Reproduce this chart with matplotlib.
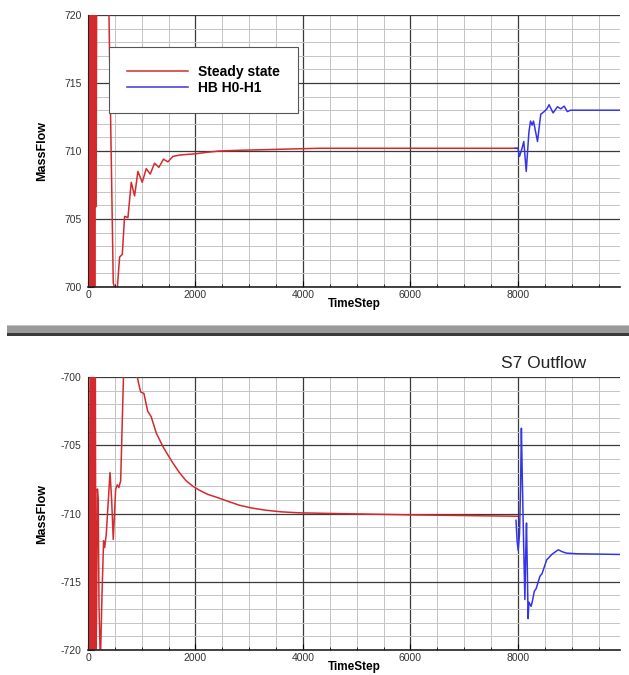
import numpy as np
import matplotlib
matplotlib.use("Agg")
import matplotlib.pyplot as plt
from matplotlib.patches import Rectangle
from matplotlib.ticker import MultipleLocator

plt.rcParams['font.family'] = ['Liberation Sans', 'DejaVu Sans']
plt.rcParams['axes.unicode_minus'] = False

# upper panel: inflow mass flow
top_red_t = [0, 20, 40, 52, 64, 76, 88, 100, 112, 124, 136, 150, 165, 250, 390, 470, 520, 545,
             588, 638, 681, 743, 805, 867, 929, 1009, 1084, 1158, 1238, 1319, 1405,
             1486, 1579, 1703, 1850, 2012, 2200, 2446, 2800, 3313, 3800, 4303, 5000,
             6000, 7000, 7990]
top_red_v = [712.5, 695, 728, 693, 728, 694, 728, 693, 727, 694, 722, 705.9, 727, 735, 720, 700.3,
             699.6, 699.9, 702.2, 702.4, 705.2, 705.1, 707.7, 706.7, 708.5, 707.7, 708.7,
             708.3, 709.1, 708.8, 709.4, 709.2, 709.6, 709.7, 709.75, 709.8, 709.9,
             710.0, 710.05, 710.1, 710.15, 710.2, 710.2, 710.2, 710.2, 710.2]

top_blue_t = [7950, 8000, 8030, 8070, 8110, 8155, 8205, 8235, 8265, 8290, 8320, 8365,
              8425, 8490, 8540, 8580, 8655, 8735, 8800, 8860, 8920, 8980, 9200, 9900]
top_blue_v = [710.2, 710.2, 709.6, 710.1, 710.7, 708.5, 711.4, 712.2, 711.9, 712.2, 711.6,
              710.7, 712.7, 712.9, 713.1, 713.4, 712.8, 713.25, 713.1, 713.3, 712.9,
              713.0, 713.0, 713.0]

# lower panel: S7 outflow
bot_red_t = [0, 20, 40, 52, 64, 76, 88, 100, 112, 124, 136, 148, 160, 175, 190, 205, 230,
             260, 290, 310, 340, 410, 440, 470, 515, 545, 575, 608, 660, 700, 800, 917,
             950, 980, 1040, 1110, 1175, 1270, 1395, 1500, 1580, 1700, 1825, 1950, 2075,
             2230, 2385, 2600, 2820, 3050, 3310, 3600, 3930, 4560, 5990, 7990]
bot_red_v = [-712, -722, -698, -722, -698, -722, -698, -722, -698, -722, -698, -722, -716.8,
             -708.2, -709, -716.8, -721, -716, -712, -712.5, -711.5, -707, -709, -711.9,
             -708.2, -707.9, -708.1, -707.6, -700, -695, -694, -700, -700.6, -701.1,
             -701.2, -702.5, -702.9, -704.1, -705.1, -705.8, -706.3, -707.0, -707.6,
             -708.0, -708.3, -708.6, -708.8, -709.1, -709.4, -709.6, -709.76, -709.88,
             -709.95, -710.0, -710.1, -710.2]

bot_blue_t = [7965, 7985, 8005, 8030, 8050, 8065, 8080, 8100, 8130, 8145, 8160, 8175,
              8190, 8205, 8220, 8245, 8265, 8305, 8340, 8410, 8450, 8535, 8630, 8750,
              8825, 8900, 9090, 9900]
bot_blue_v = [-710.5, -712.0, -712.7, -711.5, -708, -703.75, -707, -711, -716.3, -713,
              -710.7, -714, -717.7, -716.5, -716.6, -716.8, -716.5, -715.7, -715.5,
              -714.6, -714.4, -713.4, -713.0, -712.66, -712.8, -712.9, -712.95, -713.0]

red = '#d42a2e'
blue = '#3535e8'

fig = plt.figure(figsize=(6.29, 6.75), dpi=100)
W, H = 629, 675


def px_axes(x0, y0, x1, y1):
    return fig.add_axes([x0 / W, 1 - y1 / H, (x1 - x0) / W, (y1 - y0) / H])


def style(ax, ylim):
    ax.set_xlim(0, 9900)
    ax.set_ylim(*ylim)
    ax.xaxis.set_major_locator(MultipleLocator(2000))
    ax.xaxis.set_minor_locator(MultipleLocator(500))
    ax.yaxis.set_major_locator(MultipleLocator(5))
    ax.yaxis.set_minor_locator(MultipleLocator(1))
    ax.grid(which='minor', color='#c4c4c4', lw=0.7)
    ax.grid(which='major', color='#3a3a3a', lw=0.9)
    ax.set_axisbelow(True)
    ax.spines['right'].set_visible(False)
    ax.spines['top'].set_visible(False)
    ax.spines['left'].set_color('#222222')
    ax.spines['bottom'].set_color('#222222')
    ax.spines['bottom'].set_linewidth(1.2)
    ax.tick_params(which='major', direction='in', length=4, width=0.8,
                   labelsize=7.5, labelcolor='#333333')
    ax.tick_params(which='minor', direction='in', length=2.5, width=0.6)
    ax.tick_params(axis='y', pad=4.5)
    ax.tick_params(axis='x', pad=2)
    ax.set_xlabel('TimeStep', fontsize=8.5, fontweight='bold')
    ax.set_ylabel('MassFlow', fontsize=9, fontweight='bold')
    ax.xaxis.label.set_va('center')
    ax.yaxis.label.set_va('center')
    ax.xaxis.set_label_coords(0.5, -0.062)
    ax.yaxis.set_label_coords(-0.0865, 0.5)


ax1 = px_axes(88, 15, 620, 287)
style(ax1, (700, 720))
ax1.plot(top_red_t, top_red_v, color=red, lw=1.1, label='Steady state')
ax1.plot(top_blue_t, top_blue_v, color=blue, lw=1.1, label='HB H0-H1')
leg = ax1.legend(loc='upper left', bbox_to_anchor=(102 / W, 1 - 40 / H),
                 bbox_transform=fig.transFigure, fancybox=False, framealpha=1,
                 edgecolor='#555555', borderpad=1.3, handlelength=4.4,
                 handletextpad=0.7, labelspacing=0.15,
                 prop={'size': 10, 'weight': 'bold'})
leg.get_frame().set_linewidth(0.8)

ax2 = px_axes(88, 377, 620, 650)
style(ax2, (-720, -700))
ax2.plot(bot_red_t, bot_red_v, color=red, lw=1.1)
ax2.plot(bot_blue_t, bot_blue_v, color=blue, lw=1.1)
fig.text(586 / W, 1 - 363 / H, 'S7 Outflow', ha='right', va='center',
         fontsize=12.5, color='#222222')

# grey divider bar between the two panels
fig.patches.append(Rectangle((7 / W, 1 - 333 / H), 1, 8 / H, transform=fig.transFigure,
                             facecolor='#9a9a9a', edgecolor='none'))
fig.patches.append(Rectangle((7 / W, 1 - 326 / H), 1, 1 / H, transform=fig.transFigure,
                             facecolor='#c4c4c4', edgecolor='none'))
fig.patches.append(Rectangle((7 / W, 1 - 336 / H), 1, 3 / H, transform=fig.transFigure,
                             facecolor='#3a3a3a', edgecolor='none'))

fig.savefig('out.png', dpi=100)
